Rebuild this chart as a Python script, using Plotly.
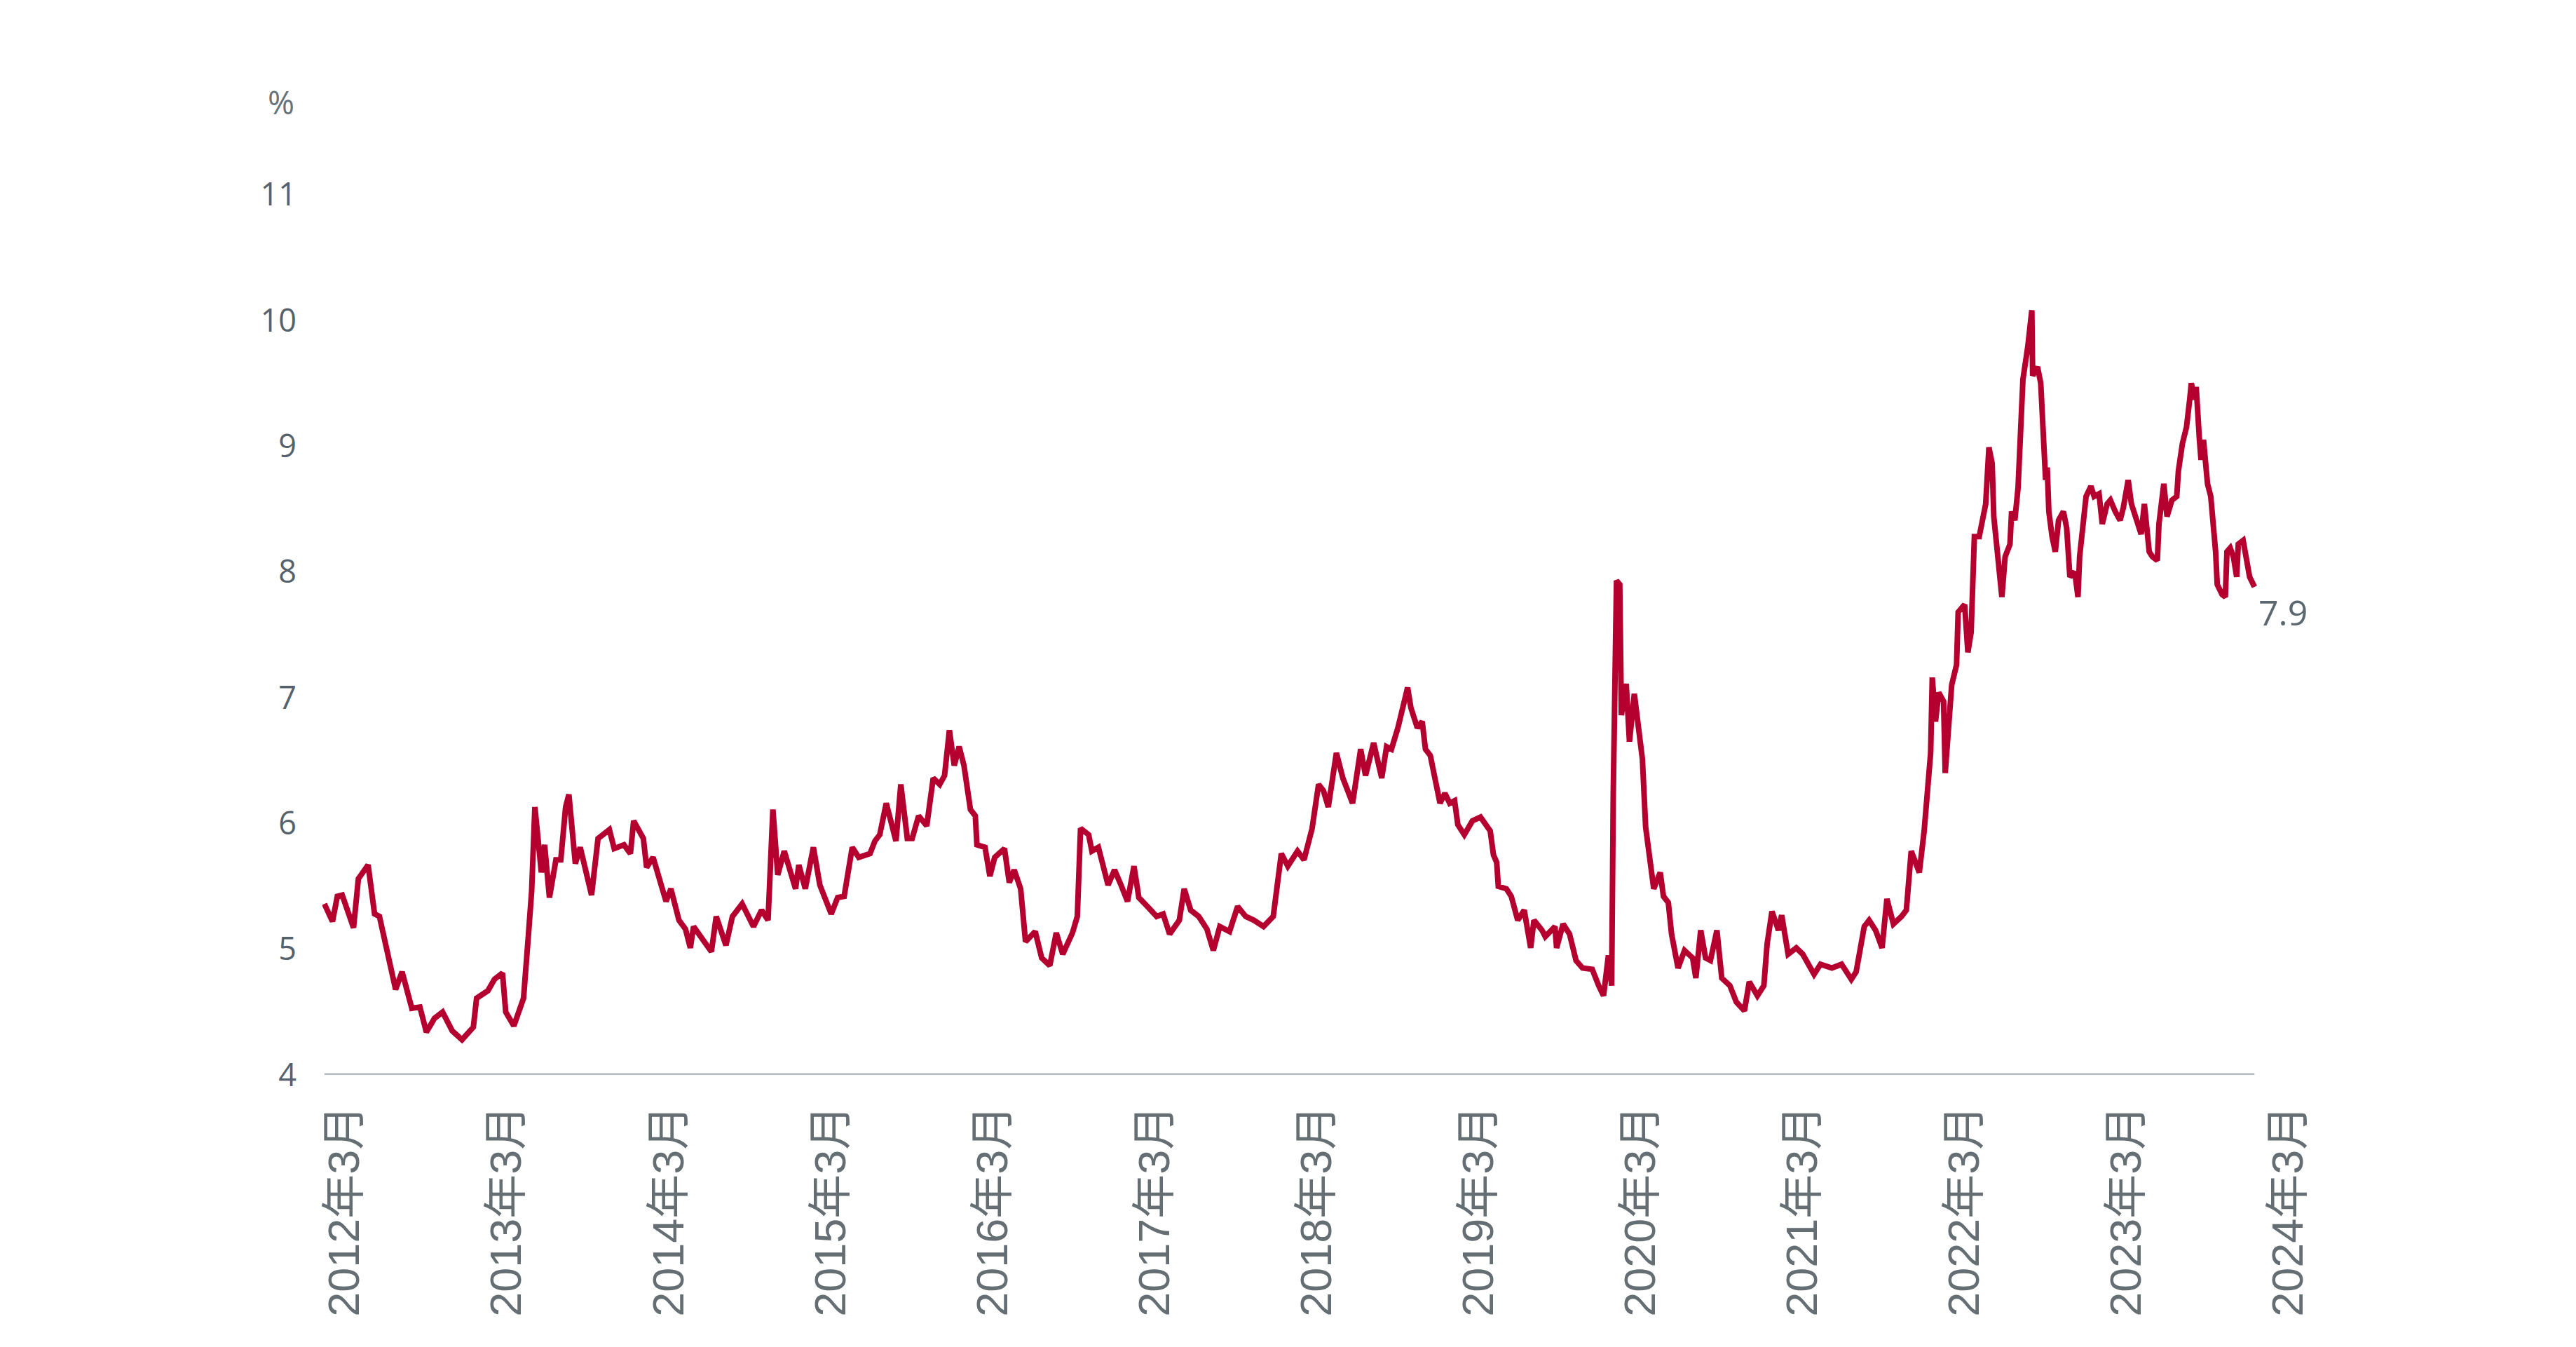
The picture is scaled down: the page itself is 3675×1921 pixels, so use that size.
import plotly.graph_objects as go

# time as decimal years, value in %
years = [
    2012.04, 2012.09, 2012.12, 2012.15, 2012.22, 2012.25, 2012.31, 2012.35, 2012.38, 2012.45,
    2012.48, 2012.52, 2012.58, 2012.63, 2012.67, 2012.72, 2012.77, 2012.83, 2012.89, 2012.96,
    2012.98, 2013.05, 2013.09, 2013.14, 2013.16, 2013.21, 2013.27, 2013.30, 2013.32, 2013.34,
    2013.38, 2013.40, 2013.43, 2013.47, 2013.50, 2013.53, 2013.55, 2013.59, 2013.62, 2013.69,
    2013.73, 2013.80, 2013.83, 2013.89, 2013.93, 2013.95, 2014.01, 2014.03, 2014.07, 2014.12,
    2014.15, 2014.18, 2014.23, 2014.27, 2014.30, 2014.32, 2014.37, 2014.43, 2014.46, 2014.52,
    2014.56, 2014.62, 2014.69, 2014.74, 2014.78, 2014.81, 2014.84, 2014.88, 2014.95, 2014.97,
    2015.01, 2015.06, 2015.10, 2015.17, 2015.21, 2015.25, 2015.30, 2015.34, 2015.41, 2015.44,
    2015.47, 2015.51, 2015.54, 2015.57, 2015.60, 2015.64, 2015.67, 2015.71, 2015.76, 2015.80,
    2015.84, 2015.87, 2015.90, 2015.93, 2015.96, 2015.99, 2016.03, 2016.06, 2016.07, 2016.12,
    2016.15, 2016.18, 2016.24, 2016.27, 2016.30, 2016.34, 2016.37, 2016.43, 2016.47, 2016.52,
    2016.56, 2016.60, 2016.66, 2016.69, 2016.71, 2016.76, 2016.78, 2016.82, 2016.88, 2016.92,
    2016.96, 2017.00, 2017.04, 2017.07, 2017.13, 2017.18, 2017.22, 2017.26, 2017.32, 2017.35,
    2017.39, 2017.44, 2017.49, 2017.53, 2017.57, 2017.63, 2017.68, 2017.73, 2017.78, 2017.84,
    2017.90, 2017.95, 2017.99, 2018.05, 2018.09, 2018.14, 2018.18, 2018.21, 2018.24, 2018.29,
    2018.33, 2018.39, 2018.44, 2018.47, 2018.52, 2018.57, 2018.60, 2018.63, 2018.67, 2018.71,
    2018.73, 2018.75, 2018.79, 2018.82, 2018.84, 2018.87, 2018.91, 2018.93, 2018.96, 2018.99,
    2019.02, 2019.04, 2019.08, 2019.13, 2019.18, 2019.24, 2019.26, 2019.28, 2019.29, 2019.34,
    2019.37, 2019.41, 2019.45, 2019.49, 2019.51, 2019.56, 2019.58, 2019.64, 2019.65, 2019.69,
    2019.73, 2019.77, 2019.81, 2019.87, 2019.91, 2019.94, 2019.97, 2019.99, 2020.00, 2020.02,
    2020.04, 2020.05, 2020.08, 2020.10, 2020.13, 2020.15, 2020.18, 2020.20, 2020.23, 2020.25,
    2020.29, 2020.31, 2020.34, 2020.36, 2020.40, 2020.44, 2020.49, 2020.51, 2020.54, 2020.57,
    2020.60, 2020.64, 2020.67, 2020.72, 2020.76, 2020.81, 2020.84, 2020.89, 2020.93, 2020.95,
    2020.98, 2021.02, 2021.04, 2021.08, 2021.13, 2021.17, 2021.24, 2021.28, 2021.35, 2021.41,
    2021.47, 2021.50, 2021.55, 2021.58, 2021.62, 2021.66, 2021.69, 2021.73, 2021.78, 2021.81,
    2021.84, 2021.89, 2021.92, 2021.94, 2021.96, 2021.97, 2021.99, 2022.01, 2022.04, 2022.05,
    2022.07, 2022.09, 2022.12, 2022.13, 2022.17, 2022.19, 2022.21, 2022.23, 2022.26, 2022.28,
    2022.30, 2022.32, 2022.34, 2022.35, 2022.38, 2022.40, 2022.42, 2022.45, 2022.46, 2022.48,
    2022.50, 2022.52, 2022.53, 2022.56, 2022.585, 2022.59, 2022.62, 2022.64, 2022.66, 2022.67,
    2022.68, 2022.69, 2022.71, 2022.73, 2022.75, 2022.78, 2022.80, 2022.82, 2022.85, 2022.87,
    2022.88, 2022.90, 2022.92, 2022.95, 2022.97, 2023.00, 2023.02, 2023.05, 2023.07, 2023.10,
    2023.13, 2023.15, 2023.18, 2023.20, 2023.23, 2023.26, 2023.28, 2023.31, 2023.33, 2023.36,
    2023.37, 2023.40, 2023.42, 2023.45, 2023.48, 2023.49, 2023.515, 2023.54, 2023.56, 2023.57,
    2023.59, 2023.60, 2023.62, 2023.63, 2023.645, 2023.67, 2023.69, 2023.71, 2023.72, 2023.73,
    2023.76, 2023.78, 2023.79, 2023.81, 2023.83, 2023.85, 2023.86, 2023.89, 2023.91, 2023.93,
    2023.96,
]

values = [
    5.36, 5.22, 5.42, 5.43, 5.17, 5.56, 5.67, 5.28, 5.26, 4.86,
    4.68, 4.82, 4.53, 4.54, 4.34, 4.45, 4.50, 4.35, 4.28, 4.38,
    4.61, 4.67, 4.76, 4.81, 4.50, 4.39, 4.61, 5.11, 5.46, 6.13,
    5.61, 5.83, 5.41, 5.71, 5.71, 6.13, 6.23, 5.68, 5.81, 5.43,
    5.88, 5.95, 5.80, 5.83, 5.76, 6.02, 5.88, 5.65, 5.73, 5.51,
    5.38, 5.48, 5.23, 5.16, 5.01, 5.18, 5.08, 4.98, 5.26, 5.03,
    5.26, 5.36, 5.18, 5.31, 5.23, 6.11, 5.59, 5.78, 5.48, 5.67,
    5.48, 5.81, 5.51, 5.28, 5.41, 5.42, 5.81, 5.73, 5.76, 5.86,
    5.91, 6.16, 6.01, 5.86, 6.31, 5.88, 5.88, 6.06, 5.98, 6.36,
    6.31, 6.38, 6.74, 6.46, 6.61, 6.46, 6.11, 6.06, 5.83, 5.81,
    5.58, 5.73, 5.80, 5.53, 5.63, 5.48, 5.06, 5.14, 4.93, 4.87,
    5.13, 4.96, 5.13, 5.26, 5.96, 5.91, 5.78, 5.81, 5.51, 5.63,
    5.51, 5.38, 5.66, 5.41, 5.33, 5.26, 5.28, 5.12, 5.23, 5.48,
    5.31, 5.26, 5.16, 4.99, 5.18, 5.14, 5.34, 5.26, 5.23, 5.18,
    5.26, 5.76, 5.66, 5.78, 5.71, 5.96, 6.31, 6.26, 6.13, 6.56,
    6.36, 6.16, 6.59, 6.38, 6.64, 6.36, 6.61, 6.59, 6.76, 6.95,
    7.08, 6.92, 6.76, 6.81, 6.59, 6.54, 6.29, 6.16, 6.24, 6.16,
    6.18, 5.99, 5.91, 6.02, 6.05, 5.94, 5.75, 5.69, 5.50, 5.48,
    5.42, 5.23, 5.31, 5.01, 5.23, 5.15, 5.10, 5.18, 5.01, 5.20,
    5.12, 4.91, 4.85, 4.84, 4.71, 4.63, 4.95, 4.71, 6.24, 7.93,
    7.90, 6.86, 7.11, 6.65, 7.03, 6.78, 6.51, 5.97, 5.67, 5.48,
    5.61, 5.42, 5.37, 5.12, 4.85, 4.99, 4.93, 4.77, 5.15, 4.93,
    4.91, 5.15, 4.77, 4.71, 4.58, 4.51, 4.74, 4.63, 4.71, 5.04,
    5.30, 5.15, 5.27, 4.96, 5.01, 4.96, 4.80, 4.88, 4.85, 4.88,
    4.76, 4.82, 5.18, 5.23, 5.15, 5.01, 5.40, 5.20, 5.26, 5.31,
    5.78, 5.61, 5.94, 6.27, 6.56, 7.16, 6.81, 7.04, 6.97, 6.40,
    6.81, 7.10, 7.26, 7.68, 7.74, 7.36, 7.52, 8.28, 8.28, 8.40,
    8.54, 8.99, 8.86, 8.44, 8.00, 7.80, 8.12, 8.22, 8.48, 8.41,
    8.67, 9.18, 9.53, 9.79, 10.08, 9.56, 9.63, 9.50, 8.83, 8.73,
    8.83, 8.48, 8.28, 8.16, 8.41, 8.48, 8.35, 7.96, 8.00, 7.80,
    8.12, 8.41, 8.60, 8.68, 8.60, 8.62, 8.38, 8.54, 8.57, 8.48,
    8.41, 8.51, 8.73, 8.54, 8.41, 8.30, 8.54, 8.16, 8.12, 8.09,
    8.38, 8.70, 8.44, 8.57, 8.60, 8.80, 9.02, 9.15, 9.37, 9.50,
    9.37, 9.47, 9.05, 8.89, 9.05, 8.70, 8.60, 8.32, 8.16, 7.90,
    7.82, 7.80, 8.16, 8.19, 8.12, 7.96, 8.22, 8.25, 8.09, 7.96,
    7.88,
]

tick_years = list(range(2012, 2025))
tick_month = 3
tick_labels = [f"{y}年{tick_month}月" for y in tick_years]
tick_vals = [y + (tick_month - 1) / 12 for y in tick_years]
y_ticks = [4, 5, 6, 7, 8, 9, 10, 11]
unit_label = "%"
last_label = f"{values[-1]:.1f}"

LINE = "#B5002F"

fig = go.Figure()
fig.add_trace(go.Scatter(
    x=years, y=values, mode="lines",
    line=dict(color=LINE, width=8),
    hoverinfo="skip",
))

fig.update_layout(
    width=3675, height=1921,
    margin=dict(l=460, r=385, t=116, b=388),
    plot_bgcolor="white", paper_bgcolor="white",
    showlegend=False,
    shapes=[dict(
        type="line", xref="x", yref="y",
        x0=years[0], x1=years[-1], y0=y_ticks[0], y1=y_ticks[0],
        line=dict(color="#B3BBC0", width=5), layer="below",
    )],
    annotations=[
        dict(text=unit_label, xref="paper", yref="y", x=0, y=11.74,
             xanchor="right", yanchor="middle", xshift=-38, showarrow=False,
             font=dict(family="Open Sans", size=46, color="#66727A")),
        dict(text=last_label, xref="x", yref="y", x=years[-1], y=values[-1],
             xanchor="left", yanchor="middle", xshift=4, yshift=-36, showarrow=False,
             font=dict(family="Open Sans", size=50, color="#5B6870")),
    ],
)

fig.update_xaxes(
    range=[2012.028, 2024.279],
    tickvals=tick_vals, ticktext=tick_labels, tickangle=-90,
    showgrid=False, zeroline=False, showline=False, ticks="",
    tickfont=dict(family="Liberation Sans, Noto Sans CJK SC", size=63, color="#656E73"),
    ticklabelstandoff=30,
)
fig.update_yaxes(
    range=[4, 11.9], tickvals=y_ticks,
    showgrid=False, zeroline=False, showline=False, ticks="",
    tickfont=dict(family="Open Sans", size=45, color="#56626B"),
    ticklabelstandoff=36,
)

fig.write_html("out.html", config={"displayModeBar": False},
               post_script="document.body.style.margin='0';")
